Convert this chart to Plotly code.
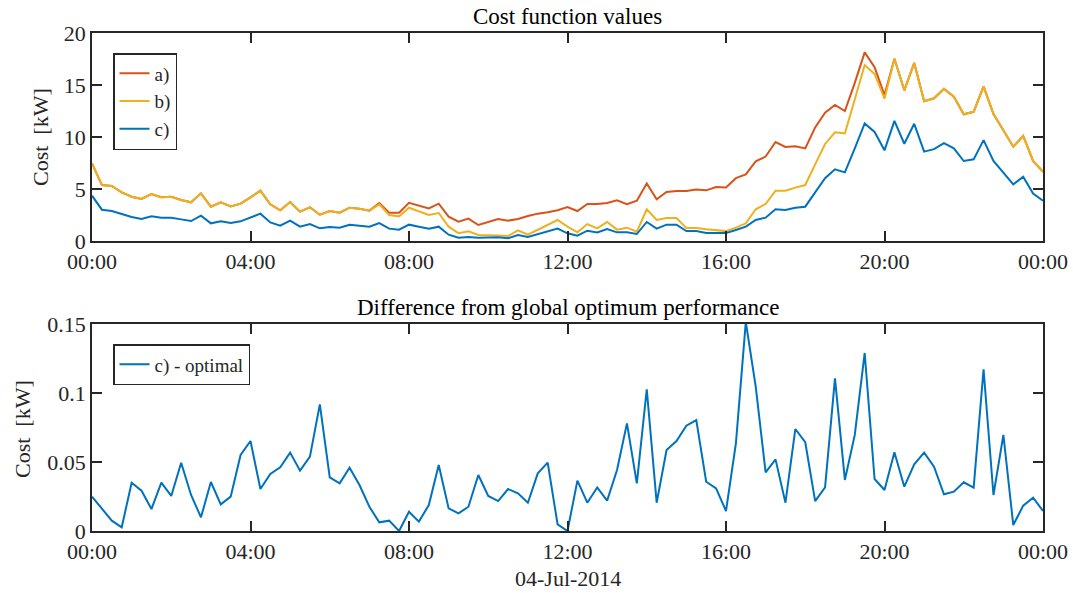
import pandas as pd
import plotly.graph_objects as go

# ---- data (15-minute steps over 04-Jul-2014) ----
start = "2014-07-04 00:00"
times = pd.date_range(start, periods=97, freq="15min")

cost_a = [7.47, 5.38, 5.29, 4.68, 4.26, 4.04, 4.52, 4.20, 4.26, 3.94, 3.72, 4.58, 3.30, 3.72, 3.33, 3.59,
          4.20, 4.84, 3.53, 2.95, 3.75, 2.82, 3.24, 2.53, 2.88, 2.72, 3.20, 3.11, 2.92, 3.65, 2.72, 2.72,
          3.67, 3.37, 3.14, 3.59, 2.34, 1.86, 2.15, 1.54, 1.86, 2.12, 1.96, 2.12, 2.40, 2.63, 2.76, 2.95,
          3.27, 2.88, 3.56, 3.56, 3.65, 3.91, 3.53, 3.88, 5.54, 4.00, 4.71, 4.81, 4.81, 4.94, 4.87, 5.19,
          5.14, 6.04, 6.40, 7.66, 8.12, 9.52, 9.05, 9.10, 8.90, 10.92, 12.34, 13.08, 12.50, 15.20, 18.14, 16.70,
          14.04, 17.52, 14.49, 17.12, 13.43, 13.72, 14.63, 13.88, 12.18, 12.42, 14.87, 12.20, 10.64, 9.07, 10.10, 7.70,
          6.66]
cost_b = [7.47, 5.38, 5.29, 4.68, 4.26, 4.04, 4.52, 4.20, 4.26, 3.94, 3.72, 4.58, 3.30, 3.72, 3.33, 3.59,
          4.20, 4.84, 3.53, 2.95, 3.75, 2.82, 3.24, 2.53, 2.88, 2.72, 3.20, 3.11, 2.92, 3.53, 2.50, 2.37,
          3.20, 2.82, 2.50, 2.69, 1.38, 0.74, 0.93, 0.58, 0.58, 0.54, 0.48, 1.03, 0.61, 1.09, 1.57, 2.02,
          1.38, 0.83, 1.63, 1.22, 1.83, 1.09, 1.28, 0.90, 3.04, 2.02, 2.21, 2.21, 1.25, 1.25, 1.12, 1.06,
          0.95, 1.28, 1.70, 3.05, 3.56, 4.84, 4.84, 5.13, 5.38, 7.37, 9.33, 10.45, 10.35, 13.60, 16.92, 16.06,
          13.68, 17.52, 14.49, 17.12, 13.43, 13.72, 14.63, 13.88, 12.18, 12.42, 14.87, 12.20, 10.64, 9.07, 10.10, 7.70,
          6.66]
cost_c = [4.36, 3.01, 2.88, 2.56, 2.31, 2.12, 2.37, 2.24, 2.24, 2.08, 1.92, 2.44, 1.70, 1.89, 1.73, 1.89,
          2.24, 2.63, 1.79, 1.47, 1.96, 1.38, 1.63, 1.22, 1.35, 1.28, 1.57, 1.47, 1.38, 1.73, 1.19, 1.09,
          1.57, 1.37, 1.19, 1.38, 0.61, 0.32, 0.38, 0.32, 0.32, 0.35, 0.26, 0.58, 0.38, 0.67, 0.93, 1.19,
          0.74, 0.51, 0.99, 0.83, 1.15, 0.83, 0.83, 0.67, 1.83, 1.19, 1.57, 1.57, 0.96, 0.96, 0.77, 0.80,
          0.76, 1.06, 1.38, 2.02, 2.24, 3.05, 2.98, 3.20, 3.30, 4.68, 6.03, 6.89, 6.60, 8.90, 11.30, 10.48,
          8.72, 11.55, 9.35, 11.27, 8.59, 8.83, 9.42, 8.91, 7.69, 7.85, 9.70, 7.70, 6.60, 5.45, 6.17, 4.57,
          3.87]
diff_c = [0.0249, 0.0164, 0.0075, 0.0027, 0.0350, 0.0292, 0.0159, 0.0350, 0.0254, 0.0495, 0.0261, 0.0099,
          0.0355, 0.0193, 0.0249, 0.0551, 0.0652, 0.0304, 0.0413, 0.0461, 0.0568, 0.0437, 0.0539, 0.0918,
          0.0389, 0.0345, 0.0459, 0.0333, 0.0176, 0.0063, 0.0075, 0.0000, 0.0140, 0.0068, 0.0188, 0.0478,
          0.0164, 0.0128, 0.0176, 0.0406, 0.0254, 0.0217, 0.0304, 0.0273, 0.0205, 0.0418, 0.0495, 0.0048,
          0.0000, 0.0365, 0.0205, 0.0316, 0.0220, 0.0442, 0.0780, 0.0345, 0.1027, 0.0205, 0.0587, 0.0652,
          0.0763, 0.0804, 0.0357, 0.0309, 0.0145, 0.0635, 0.1515, 0.1046, 0.0425, 0.0519, 0.0205, 0.0739,
          0.0643, 0.0217, 0.0316, 0.1106, 0.0370, 0.0696, 0.1290, 0.0377, 0.0297, 0.0570, 0.0321, 0.0483,
          0.0568, 0.0466, 0.0266, 0.0285, 0.0353, 0.0314, 0.1171, 0.0261, 0.0696, 0.0043, 0.0184, 0.0242,
          0.0145]

series_names = ["a)", "b)", "c)"]
diff_name = "c) - optimal"
tick_labels = ["00:00", "04:00", "08:00", "12:00", "16:00", "20:00", "00:00"]
tick_times = pd.date_range(start, periods=7, freq="4h")
date_label = "04-Jul-2014"
title_top = "Cost function values"
title_bot = "Difference from global optimum performance"
y_title = "Cost&nbsp;&nbsp;[kW]"

colors = ["#D95319", "#EDB120", "#0072BD"]

FONT = "Liberation Serif"
AX = "#262626"
FS = 22
LFS = 19

fig = go.Figure()
for name, vals, col in zip(series_names, [cost_a, cost_b, cost_c], colors):
    fig.add_trace(go.Scatter(x=times, y=vals, mode="lines", name=name,
                             line=dict(color=col, width=2), xaxis="x", yaxis="y",
                             legend="legend"))
fig.add_trace(go.Scatter(x=times, y=diff_c, mode="lines", name=diff_name,
                         line=dict(color=colors[2], width=2), xaxis="x2", yaxis="y2",
                         legend="legend2"))

# pixel layout helpers (plot region spans y pixels 33..531)
def py(pix):
    return (531 - pix) / 498

def px(pix):
    return (pix - 92) / 951

top_dom = [py(241), 1.0]
bot_dom = [0.0, py(324)]

xcommon = dict(type="date", range=[tick_times[0], tick_times[-1]],
               tickvals=list(tick_times), ticktext=tick_labels,
               showline=True, mirror="ticks", linecolor=AX, linewidth=1.5,
               ticks="inside", ticklen=10, tickwidth=1.5, tickcolor=AX,
               showgrid=False, zeroline=False, automargin=False,
               tickfont=dict(family=FONT, size=FS, color=AX))
ycommon = dict(showline=True, mirror="ticks", linecolor=AX, linewidth=1.5,
               ticks="inside", ticklen=10, tickwidth=1.5, tickcolor=AX,
               showgrid=False, zeroline=False, automargin=False,
               tickfont=dict(family=FONT, size=FS, color=AX))

fig.update_layout(
    width=1073, height=593,
    margin=dict(l=92, r=30, t=33, b=62),
    paper_bgcolor="white", plot_bgcolor="white",
    font=dict(family=FONT, color=AX),
    xaxis=dict(domain=[0, 1], anchor="y", **xcommon),
    yaxis=dict(domain=top_dom, anchor="x", range=[0, 20], tickvals=[0, 5, 10, 15, 20],
               **ycommon),
    xaxis2=dict(domain=[0, 1], anchor="y2", **xcommon),
    yaxis2=dict(domain=bot_dom, anchor="x2", range=[0, 0.15], tickvals=[0, 0.05, 0.1, 0.15],
                ticktext=["0", "0.05", "0.1", "0.15"], **ycommon),
    legend=dict(x=px(113), y=py(53), xanchor="left", yanchor="top",
                bordercolor=AX, borderwidth=1.5, bgcolor="white",
                font=dict(family=FONT, size=LFS, color=AX)),
    legend2=dict(x=px(113), y=py(344), xanchor="left", yanchor="top",
                 bordercolor=AX, borderwidth=1.5, bgcolor="white",
                 font=dict(family=FONT, size=LFS, color=AX)),
    annotations=[
        dict(text=title_top, x=0.5, y=py(16), xref="paper", yref="paper", showarrow=False,
             yanchor="middle", font=dict(family=FONT, size=23, color="black")),
        dict(text=title_bot, x=0.5, y=py(307), xref="paper", yref="paper", showarrow=False,
             yanchor="middle", font=dict(family=FONT, size=23, color="black")),
        dict(text=date_label, x=0.5, y=py(578), xref="paper", yref="paper", showarrow=False,
             yanchor="middle", font=dict(family=FONT, size=FS, color=AX)),
        dict(text=y_title, x=px(40), y=py(137), xref="paper", yref="paper", showarrow=False,
             textangle=-90, xanchor="center", yanchor="middle",
             font=dict(family=FONT, size=FS, color=AX)),
        dict(text=y_title, x=px(22), y=py(429), xref="paper", yref="paper", showarrow=False,
             textangle=-90, xanchor="center", yanchor="middle",
             font=dict(family=FONT, size=FS, color=AX)),
    ],
)

fig.write_html("out.html", config={"displayModeBar": False},
               post_script="document.body.style.margin='0';document.body.style.overflow='hidden';")
